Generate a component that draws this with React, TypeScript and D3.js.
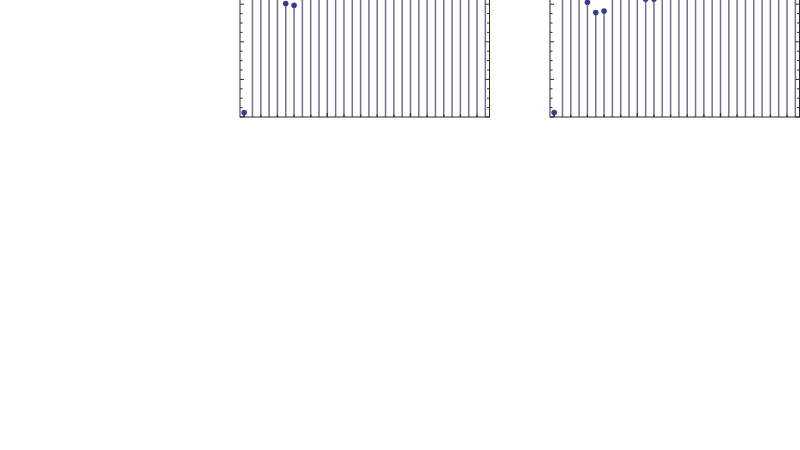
import React from "react";
import * as d3 from "d3";

// x positions of stems (sample index)
const indices = d3.range(0, 30);
// Left panel stem heights (most run off the top of the picture)
const leftValues = [0.12, 3.6, 3.9, 4.2, 3.5, 3.02, 2.97, 3.8, 4.1, 3.7, 4.4, 3.9, 3.6, 4.0, 4.3, 3.8, 3.5, 4.1, 3.9, 4.2, 3.7, 3.6, 4.0, 3.8, 4.1, 3.9, 3.7, 4.2, 3.8, 4.0];
// Right panel stem heights
const rightValues = [0.12, 3.7, 4.0, 3.9, 3.05, 2.78, 2.82, 3.6, 4.1, 3.8, 3.5, 3.13, 3.13, 3.9, 4.2, 3.7, 4.0, 3.8, 3.6, 4.1, 3.9, 3.7, 4.3, 3.8, 3.6, 4.0, 3.9, 4.1, 3.7, 3.8];
const yMinorTicks = d3.range(0, 6.01, 0.25);
const xMinorTicks = d3.range(0, 30, 2);

const PLOT_W = 249.5;
const BOTTOM = 117;
const UNIT = 37.6;
const Y_MAX = 6;

function StemPanel({ left, values, majorX }: { left: number; values: number[]; majorX: number[] }) {
  const x = d3.scaleLinear().domain([-0.5, 29.5]).range([left, left + PLOT_W]);
  const y = d3.scaleLinear().domain([0, Y_MAX]).range([BOTTOM, BOTTOM - Y_MAX * UNIT]);
  const top = y(Y_MAX);
  const stemColor = "#707094";
  const dotColor = "#3b3b8e";
  const axisColor = "#2a2a2a";
  return (
    <g>
      {indices.map((i) => (
        <line key={"s" + i} x1={x(i)} x2={x(i)} y1={y(0)} y2={y(values[i])} stroke={stemColor} strokeWidth={1.5} />
      ))}
      {indices.map((i) => (
        <circle key={"c" + i} cx={x(i)} cy={y(values[i])} r={2.8} fill={dotColor} />
      ))}
      {yMinorTicks.map((t) => {
        const major = Math.abs(t - Math.round(t)) < 1e-6;
        const len = major ? 4 : 2.5;
        return (
          <g key={"yt" + t}>
            <line x1={left} x2={left + len} y1={y(t)} y2={y(t)} stroke={axisColor} strokeWidth={1} />
            <line x1={left + PLOT_W} x2={left + PLOT_W - len} y1={y(t)} y2={y(t)} stroke={axisColor} strokeWidth={1} />
          </g>
        );
      })}
      {xMinorTicks.map((t) => {
        const major = majorX.includes(t);
        const len = major ? 4 : 2.5;
        return <line key={"xt" + t} x1={x(t)} x2={x(t)} y1={BOTTOM} y2={BOTTOM - len} stroke={axisColor} strokeWidth={1.2} />;
      })}
      <rect x={left} y={top} width={PLOT_W} height={BOTTOM - top} fill="none" stroke={axisColor} strokeWidth={1} />
    </g>
  );
}

export default function App() {
  return (
    <svg width={800} height={450} style={{ position: "absolute", left: 0, top: 0, background: "#fff" }}>
      <rect x={0} y={0} width={800} height={450} fill="#fff" />
      <StemPanel left={240} values={leftValues} majorX={[10, 20]} />
      <StemPanel left={550} values={rightValues} majorX={[10, 20]} />
    </svg>
  );
}
